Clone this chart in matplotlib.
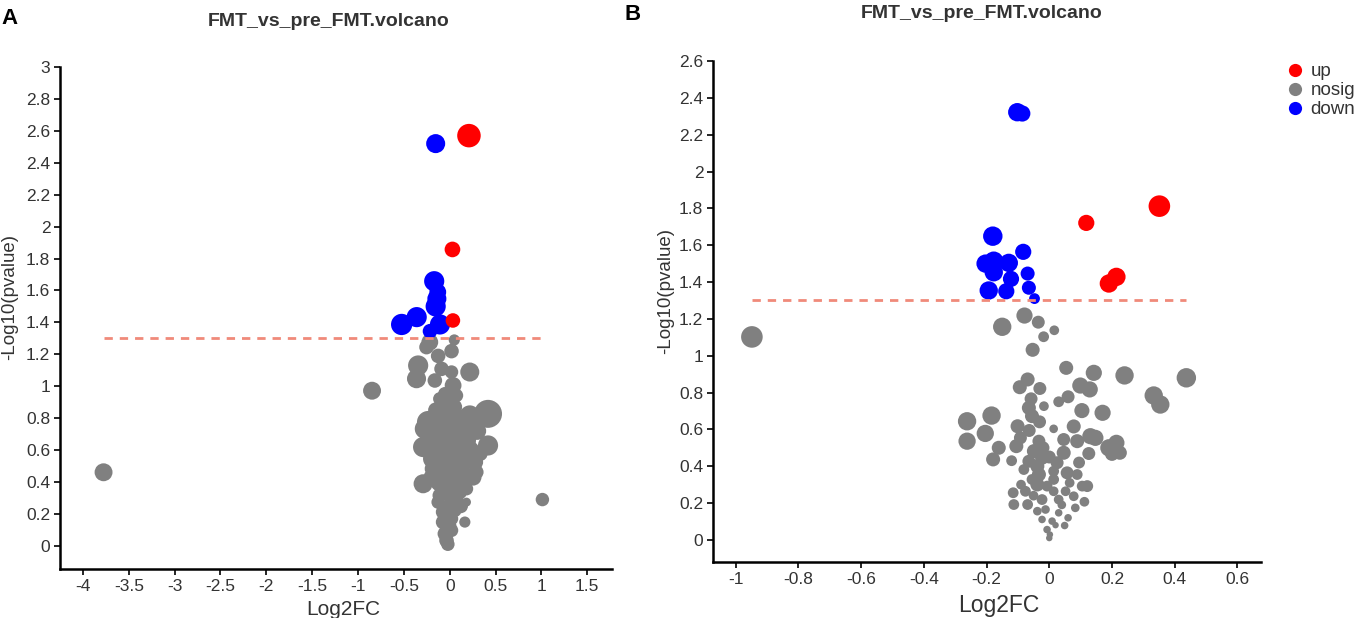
import matplotlib
matplotlib.use("Agg")
import matplotlib.pyplot as plt
from matplotlib import font_manager as fm
from matplotlib.lines import Line2D
from matplotlib.ticker import FuncFormatter
import numpy as np

# ---------------- data ----------------
title = "FMT_vs_pre_FMT.volcano"
categories = ["up", "nosig", "down"]
threshold_p = 0.05

# Panel A  (log2FC, -log10 p, mean abundance)
a_up_x = [0.21, 0.03, 0.035]
a_up_y = [2.57, 1.857, 1.412]
a_up_ab = [21, 14, 13]

a_down_x = [-0.153, -0.169, -0.13, -0.14, -0.153, -0.524, -0.36, -0.106, -0.215]
a_down_y = [2.52, 1.658, 1.59, 1.548, 1.50, 1.387, 1.433, 1.387, 1.345]
a_down_ab = [17, 18, 15, 17, 18, 19, 18, 18, 13]

a_ns_x = [0.05, -0.217, -0.253, 0.02, -0.126, -0.344, -0.362, 0.219, -0.162, -0.089,
          0.02, 0.037, -0.053, -0.017, -0.072, 0.02, 0.418, 0.219, -0.235, -0.271,
          -0.108, 0.11, 0.255, 0.001, 0.2, -0.29, 0.418, -0.108, 0.074, 0.219,
          -0.181, 0.001, 0.273, -0.072, 0.11, 0.29, -0.29, -0.108, 0.074, 0.183,
          -0.035, -0.126, 0.074, 0.183, -0.072, 0.056, 0.165, -0.072, 0.02, -0.053,
          -0.035, -0.02, -0.035, 0.074, -0.072, 0.146, 0.02, -0.181, 0.02, -0.108,
          0.11, 0.001, -0.108, 0.074, 0.183, -0.217, 0.255,
          -0.15, 0.05, 0.13, -0.03, 0.05, -0.12, 0.16, -0.05, 0.12, -0.03,
          -0.1, 0.3, 0.33, -0.22, 0.06, 0.15, -0.2, 0.0,
          -3.775, -0.847, 1.011]
a_ns_y = [1.29, 1.276, 1.245, 1.22, 1.19, 1.13, 1.047, 1.089, 1.036, 1.109,
          1.089, 1.005, 0.953, 0.911, 0.869, 0.838, 0.827, 0.817, 0.775, 0.733,
          0.754, 0.754, 0.775, 0.713, 0.702, 0.619, 0.629, 0.65, 0.629, 0.598,
          0.546, 0.566, 0.525, 0.483, 0.483, 0.462, 0.389, 0.40, 0.40, 0.358,
          0.337, 0.274, 0.284, 0.274, 0.212, 0.222, 0.149, 0.149, 0.097, 0.076,
          0.034, 0.01, 0.796, 0.796, 0.587, 0.546, 0.441, 0.483, 0.17, 0.316,
          0.337, 0.253, 0.921, 0.942, 0.66, 0.691, 0.43,
          0.85, 0.87, 0.68, 0.64, 0.52, 0.56, 0.44, 0.40, 0.25, 0.19,
          0.72, 0.72, 0.58, 0.60, 0.73, 0.80, 0.43, 0.125,
          0.461, 0.972, 0.29]
a_ns_ab = [10, 15, 13, 13, 13, 18, 17, 17, 13, 13,
           12, 15, 12, 12, 12, 10, 25, 18, 20, 18,
           17, 20, 18, 18, 18, 18, 18, 18, 18, 17,
           18, 18, 15, 17, 18, 13, 17, 17, 18, 12,
           15, 12, 13, 8, 13, 12, 10, 13, 12, 13,
           13, 12, 13, 15, 18, 17, 17, 15, 12, 13,
           13, 13, 12, 12, 17, 17, 15,
           14, 14, 17, 18, 18, 17, 16, 17, 13, 13,
           17, 16, 14, 16, 17, 16, 14, 12,
           16, 16, 12]

# Panel B
b_up_x = [0.351, 0.118, 0.214, 0.19]
b_up_y = [1.812, 1.721, 1.428, 1.392]
b_up_ab = [20, 15, 17, 17]

b_down_x = [-0.102, -0.086, -0.18, -0.203, -0.177, -0.177, -0.129, -0.083, -0.122,
            -0.069, -0.193, -0.137, -0.065, -0.047]
b_down_y = [2.322, 2.315, 1.649, 1.50, 1.513, 1.453, 1.504, 1.564, 1.417,
            1.446, 1.354, 1.35, 1.369, 1.31]
b_down_ab = [17, 15, 18, 17, 18, 17, 17, 15, 15, 13, 17, 15, 13, 10]

b_ns_x = [-0.15, -0.079, -0.035, 0.016, -0.018, -0.053, 0.054, 0.142, 0.24, 0.437,
          -0.069, -0.094, -0.03, 0.099, 0.129, 0.333, 0.354, 0.03, 0.06, -0.058,
          -0.065, -0.017, -0.055, -0.031, 0.104, 0.17, -0.262, -0.184, -0.204, -0.262,
          -0.101, 0.014, 0.078, -0.064, -0.105, -0.092, -0.161, -0.179, -0.033, 0.046,
          0.089, 0.131, 0.147, 0.19, 0.214, 0.225, 0.20, 0.126, 0.046, -0.049,
          -0.023, -0.065, -0.081, -0.038, 0.025, 0.057, 0.089, 0.121, 0.105, -0.033,
          -0.038, 0.014, -0.115, -0.113, -0.076, -0.069, -0.023, 0.014, 0.052, 0.078,
          0.112, 0.083, -0.038, -0.012, 0.03, -0.023, 0.009, 0.049, -0.007, 0.002,
          0.0, 0.014, -0.007, 0.03, -0.055,
          -0.09, 0.065, 0.04, -0.05, 0.095, -0.12, 0.0, -0.02, 0.02, 0.06,
          -0.948]
b_ns_y = [1.157, 1.218, 1.182, 1.138, 1.103, 1.032, 0.934, 0.907, 0.893, 0.88,
          0.871, 0.829, 0.822, 0.838, 0.817, 0.784, 0.735, 0.75, 0.777, 0.766,
          0.717, 0.726, 0.672, 0.641, 0.702, 0.69, 0.644, 0.675, 0.578, 0.536,
          0.617, 0.603, 0.616, 0.594, 0.509, 0.554, 0.50, 0.437, 0.536, 0.545,
          0.536, 0.563, 0.554, 0.50, 0.527, 0.473, 0.467, 0.469, 0.473, 0.482,
          0.446, 0.427, 0.382, 0.40, 0.419, 0.364, 0.355, 0.292, 0.292, 0.355,
          0.301, 0.328, 0.256, 0.192, 0.264, 0.192, 0.219, 0.264, 0.264, 0.237,
          0.207, 0.174, 0.156, 0.165, 0.147, 0.111, 0.102, 0.078, 0.056, 0.029,
          0.01, 0.373, 0.292, 0.219, 0.328,
          0.30, 0.31, 0.19, 0.24, 0.42, 0.43, 0.45, 0.50, 0.08, 0.12,
          1.102]
b_ns_ab = [17, 15, 12, 9, 10, 13, 13, 15, 17, 18,
           13, 13, 12, 15, 15, 17, 17, 10, 12, 12,
           13, 9, 13, 12, 14, 15, 17, 17, 16, 16,
           13, 8, 13, 12, 13, 12, 13, 13, 12, 12,
           13, 15, 15, 16, 15, 13, 13, 12, 13, 13,
           13, 12, 10, 13, 12, 12, 10, 11, 10, 13,
           13, 10, 10, 10, 10, 10, 10, 9, 9, 9,
           9, 8, 8, 8, 7, 7, 7, 7, 7, 6,
           6, 10, 10, 9, 10,
           9, 9, 8, 9, 11, 10, 12, 12, 6, 7,
           20]

a_xticks = [-4, -3.5, -3, -2.5, -2, -1.5, -1, -0.5, 0, 0.5, 1, 1.5]
a_yticks = [0, 0.2, 0.4, 0.6, 0.8, 1, 1.2, 1.4, 1.6, 1.8, 2, 2.2, 2.4, 2.6, 2.8, 3]
b_xticks = [-1, -0.8, -0.6, -0.4, -0.2, 0, 0.2, 0.4, 0.6]
b_yticks = [0, 0.2, 0.4, 0.6, 0.8, 1, 1.2, 1.4, 1.6, 1.8, 2, 2.2, 2.4, 2.6]

# ---------------- style ----------------
names = {f.name for f in fm.fontManager.ttflist}
base_font = "Liberation Sans" if "Liberation Sans" in names else "DejaVu Sans"
title_font = "Liberation Sans Narrow" if "Liberation Sans Narrow" in names else base_font
plt.rcParams["font.family"] = [base_font, "DejaVu Sans"]

TXT = "#333333"
COL = {"up": "#FF0000", "nosig": "#808080", "down": "#0000FF"}
LINE_COL = "#F08A7A"
DPI = 100
W, H = 1358, 618


def area(v, k):
    v = np.asarray(v, dtype=float) * k
    return (v * 72.0 / DPI) ** 2


fig = plt.figure(figsize=(W / DPI, H / DPI), dpi=DPI)

axA = fig.add_axes([60 / W, 1 - 569 / H, (612 - 60) / W, (569 - 67) / H])
axB = fig.add_axes([713 / W, 1 - 562 / H, (1261 - 713) / W, (562 - 61) / H])


def fmt(v, pos):
    s = "%g" % round(v, 6)
    return "0" if s == "-0" else s


def style(ax, xlim, ylim, xt, yt, xlabel_size, xlab_pos, ylab_pos):
    ax.set_xlim(*xlim)
    ax.set_ylim(*ylim)
    ax.set_xticks(xt)
    ax.set_yticks(yt)
    ax.xaxis.set_major_formatter(FuncFormatter(fmt))
    ax.yaxis.set_major_formatter(FuncFormatter(fmt))
    for s in ["top", "right"]:
        ax.spines[s].set_visible(False)
    for s in ["left", "bottom"]:
        ax.spines[s].set_linewidth(1.8)
        ax.spines[s].set_color("black")
    ax.tick_params(direction="out", length=4, width=1.2, colors="black",
                   labelcolor=TXT, labelsize=12.5, pad=3)
    ax.set_xlabel("Log2FC", fontsize=xlabel_size, color=TXT)
    ax.set_ylabel("-Log10(pvalue)", fontsize=13.5, color=TXT)
    ax.xaxis.set_label_coords(*xlab_pos)
    ax.yaxis.set_label_coords(*ylab_pos)


def draw(ax, ns, down, up, k):
    ax.scatter(ns[0], ns[1], s=area(ns[2], k), c=COL["nosig"], linewidths=0, zorder=2)
    ax.scatter(down[0], down[1], s=area(down[2], k), c=COL["down"], linewidths=0, zorder=3)
    ax.scatter(up[0], up[1], s=area(up[2], k), c=COL["up"], linewidths=0, zorder=3)
    allx = list(ns[0]) + list(down[0]) + list(up[0])
    thr = -np.log10(threshold_p)
    ax.plot([min(allx), max(allx)], [thr, thr], ls=(0, (3, 2.5)), lw=2,
            color=LINE_COL, zorder=4)


draw(axA, (a_ns_x, a_ns_y, a_ns_ab), (a_down_x, a_down_y, a_down_ab),
     (a_up_x, a_up_y, a_up_ab), 1.12)
style(axA, (-4.25, 1.77), (-0.145, 3.0), a_xticks, a_yticks, 15,
      (0.513, -0.062), (-0.076, 0.542))

draw(axB, (b_ns_x, b_ns_y, b_ns_ab), (b_down_x, b_down_y, b_down_ab),
     (b_up_x, b_up_y, b_up_ab), 1.08)
style(axB, (-1.072, 0.675), (-0.12, 2.6), b_xticks, b_yticks, 16.5,
      (0.521, -0.064), (-0.071, 0.541))

# titles
fig.text(329 / W, 1 - 22 / H, title, ha="center", va="center", fontsize=14,
         fontweight="bold", color=TXT, family=[title_font, "DejaVu Sans"])
fig.text(982 / W, 1 - 14 / H, title, ha="center", va="center", fontsize=14,
         fontweight="bold", color=TXT, family=[title_font, "DejaVu Sans"])
fig.text(1 / W, 1 - 18 / H, "A", ha="left", va="center", fontsize=16,
         fontweight="bold", color="black")
fig.text(624 / W, 1 - 15 / H, "B", ha="left", va="center", fontsize=16,
         fontweight="bold", color="black")

# legend
handles = [Line2D([], [], ls="none", marker="o", markersize=9.5,
                  markerfacecolor=COL[c], markeredgewidth=0) for c in categories]
fig.legend(handles, categories, loc="upper left",
           bbox_to_anchor=(1287 / W, 1 - 63 / H), frameon=False, fontsize=13.5,
           labelcolor=TXT, handlelength=0.9, handletextpad=0.35,
           labelspacing=0.1, borderpad=0, borderaxespad=0)

fig.savefig("out.png", dpi=DPI)
